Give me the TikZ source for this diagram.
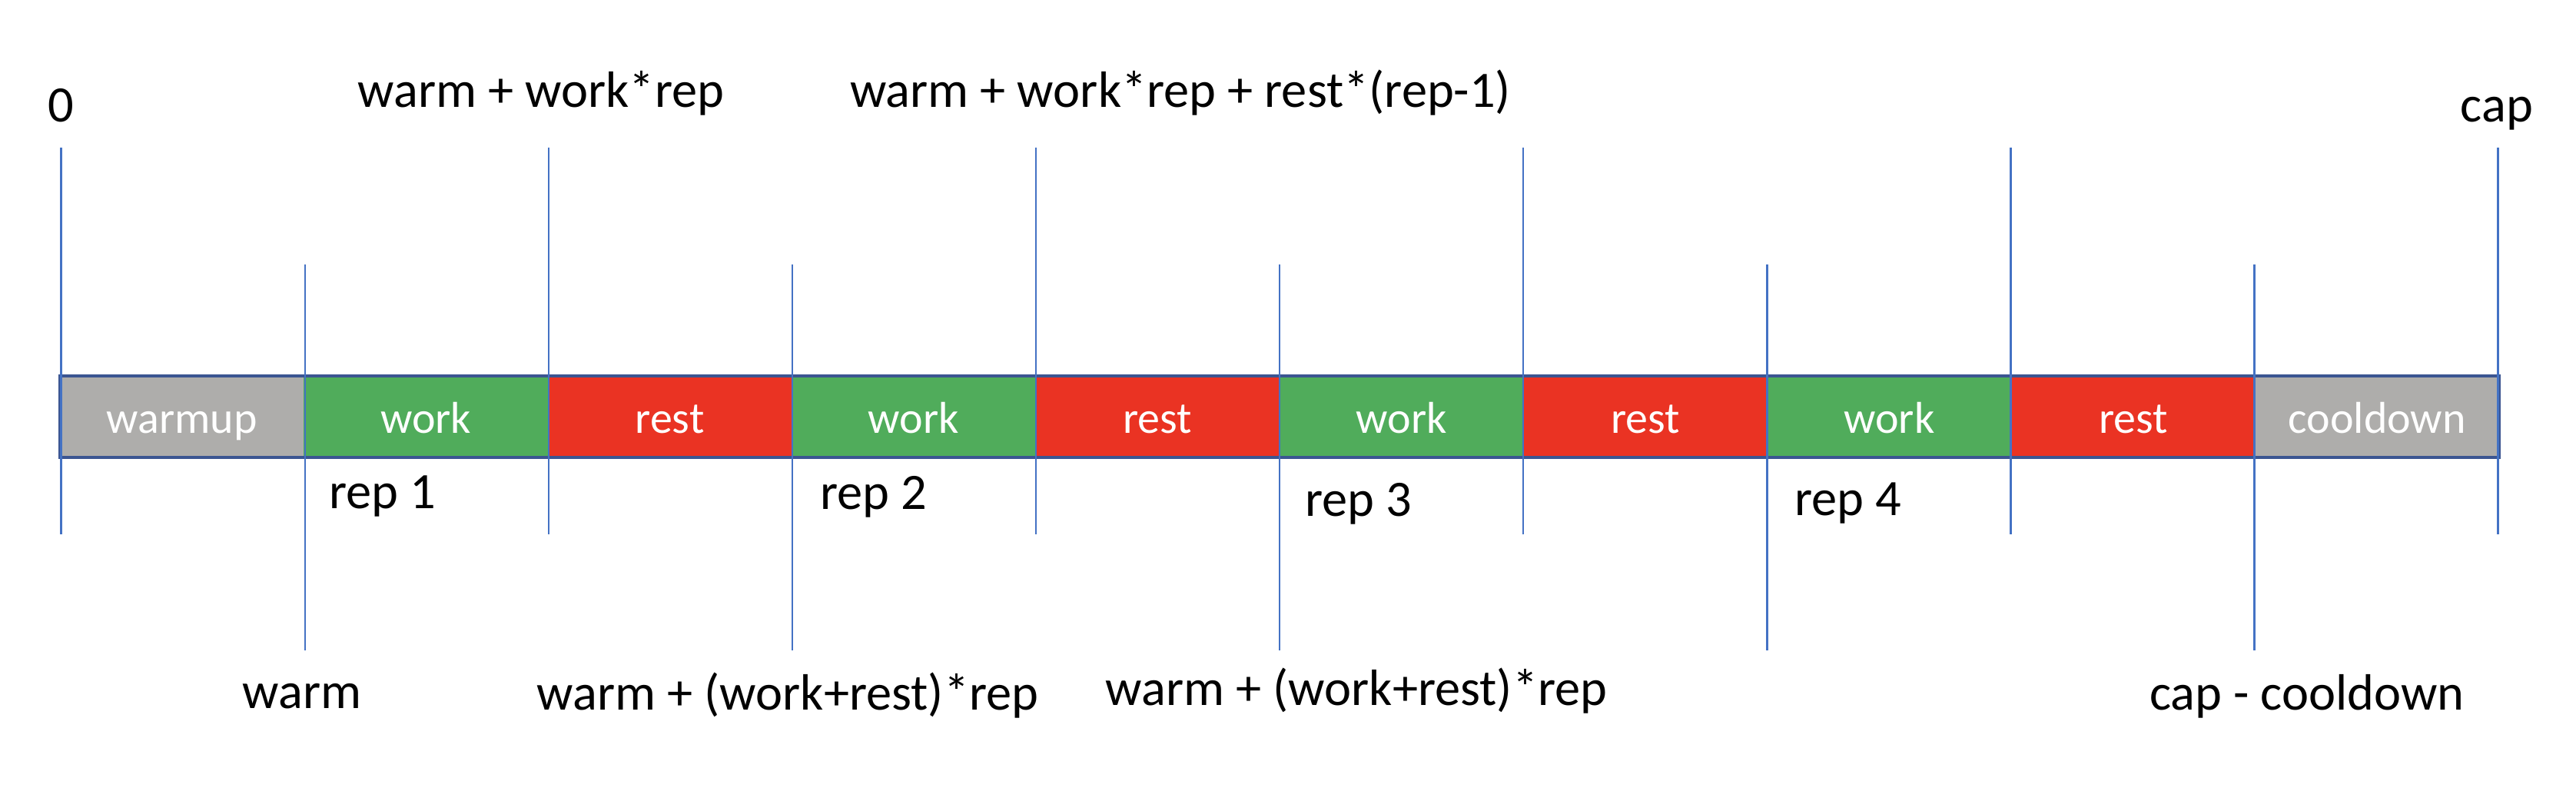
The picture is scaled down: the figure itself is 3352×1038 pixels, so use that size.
\documentclass[tikz,border=0pt]{standalone}
\usepackage{fontspec}
\setmainfont{Carlito}
\definecolor{segGray}{HTML}{AEADAB}
\definecolor{segGreen}{HTML}{50AC5B}
\definecolor{segRed}{HTML}{EA3323}
\definecolor{boxBorder}{HTML}{3B5591}
\definecolor{tickBlue}{HTML}{4472C4}
\tikzset{
  seg/.style={rectangle, inner sep=0pt, outer sep=0pt, minimum width=79.35pt, minimum height=26.5pt,
    text height=13pt, text depth=2.5pt, text=white, font=\fontsize{14.5}{17}\selectfont, anchor=west},
  warmseg/.style={seg, fill=segGray},
  workseg/.style={seg, fill=segGreen},
  restseg/.style={seg, fill=segRed},
  lbl/.style={inner sep=0pt, outer sep=0pt, anchor=base, text=black, font=\fontsize{16.6}{20}\selectfont},
  tick/.style={draw=tickBlue, line width=0.6pt},
  outline/.style={draw=boxBorder, line width=1pt}
}
\begin{document}
\begin{tikzpicture}[x=0.25pt, y=-0.25pt]
\useasboundingbox (0,0) rectangle (3352,1038);
% segments
\node[warmseg] (s0) at (78,542) {warmup};
\node[workseg] (s1) at (s0.east) {work};
\node[restseg] (s2) at (s1.east) {rest};
\node[workseg] (s3) at (s2.east) {work};
\node[restseg] (s4) at (s3.east) {rest};
\node[workseg] (s5) at (s4.east) {work};
\node[restseg] (s6) at (s5.east) {rest};
\node[workseg] (s7) at (s6.east) {work};
\node[restseg] (s8) at (s7.east) {rest};
\node[warmseg] (s9) at (s8.east) {cooldown};
\draw[outline] (s0.north west) rectangle (s9.south east);
% ticks
\foreach \k in {0,...,10} {
  \pgfmathsetmacro{\xx}{79.6+317.1*\k}
  \ifodd\k
    \coordinate (t\k) at (\xx,344);
    \coordinate (b\k) at (\xx,846);
  \else
    \coordinate (t\k) at (\xx,192);
    \coordinate (b\k) at (\xx,695);
  \fi
  \draw[tick] (t\k) -- (b\k);
}
% top labels
\node[lbl] (l0) at (79.6,159) {0};
\node[lbl] (l2) at (704,140) {warm + work*rep};
\node[lbl] (l4) at (1536,140) {warm + work*rep + rest*(rep-1)};
\node[lbl] (l10) at (3249,159) {cap};
% rep labels
\node[lbl, anchor=base west] (r1) at (428,661) {rep 1};
\node[lbl, anchor=base west] (r2) at (1067,662) {rep 2};
\node[lbl, anchor=base west] (r3) at (1698,671) {rep 3};
\node[lbl, anchor=base west] (r4) at (2335,670) {rep 4};
% bottom labels
\node[lbl] (l1) at (393,921) {warm};
\node[lbl] (l3) at (1025,923) {warm + (work+rest)*rep};
\node[lbl] (l5) at (1765,917) {warm + (work+rest)*rep};
\node[lbl] (l9) at (3002,923) {cap - cooldown};
\end{tikzpicture}
\end{document}
